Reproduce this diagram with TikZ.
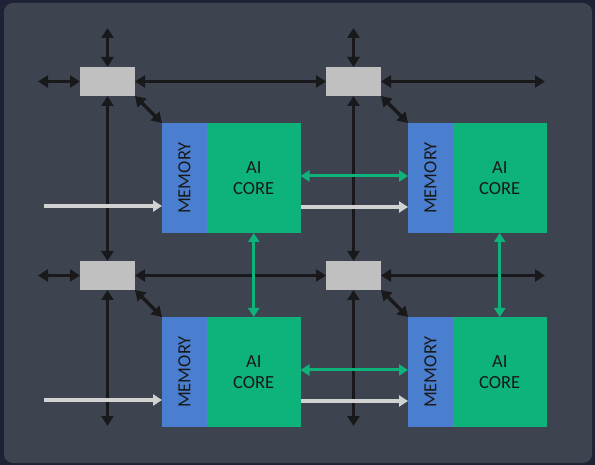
\documentclass[tikz,border=0pt]{standalone}
\usepackage{fontspec}
\setmainfont{Carlito}
\usetikzlibrary{arrows.meta, positioning, calc}
\definecolor{cframe}{HTML}{1E2234}
\definecolor{cpanel}{HTML}{3E4350}
\definecolor{cmem}{HTML}{4A7ECF}
\definecolor{ccore}{HTML}{0DB37A}
\definecolor{crouter}{HTML}{C0C0C0}
\definecolor{cwire}{HTML}{19191B}
\definecolor{cfeed}{HTML}{D2D2D2}
\tikzset{
  every picture/.style={font=\fontsize{18.5}{21.5}\selectfont, x=1pt, y=-1pt},
  router/.style={fill=crouter, minimum width=55pt, minimum height=29pt, inner sep=0pt, outer sep=0pt},
  mem/.style={fill=cmem, minimum width=45pt, minimum height=110pt, inner sep=0pt, outer sep=0pt, text=black!90},
  core/.style={fill=ccore, minimum width=93.5pt, minimum height=110pt, inner sep=0pt, outer sep=0pt, align=center, text=black!90},
  wire/.style={{Triangle[length=10pt,width=12pt]}-{Triangle[length=10pt,width=12pt]}, draw=cwire, line width=3.3pt},
  link/.style={{Triangle[length=9pt,width=11pt]}-{Triangle[length=9pt,width=11pt]}, draw=ccore, line width=3pt},
  feed/.style={-{Triangle[length=9pt,width=11pt]}, draw=cfeed, line width=4pt},
}

\begin{document}
\begin{tikzpicture}
  \useasboundingbox (0,0) rectangle (595,465);
  \fill[cframe] (0,0) rectangle (595,465);
  \fill[cpanel, rounded corners=9pt] (4,3) rectangle (592,463);
  % tiles
  \foreach \i/\x in {0/0, 1/246} {
    \foreach \j/\y in {0/0, 1/194} {
      \node[router] (r\i\j) at (107.5+\x, 81.5+\y) {};
      \node[mem] (m\i\j) at (184.5+\x, 178+\y) {\rotatebox{90}{MEMORY}};
      \node[core, right=0pt of m\i\j] (c\i\j) {AI\\CORE};
      \draw[wire] (r\i\j.south east) -- (m\i\j.north west);
    }
    \coordinate (T\i) at (107.5+\x, 28);
    \coordinate (B\i) at (107.5+\x, 426);
    \draw[wire] (T\i) -- (r\i0.north);
    \draw[wire] (r\i0.south) -- (r\i1.north);
    \draw[wire] (r\i1.south) -- (B\i);
  }
  \foreach \j/\y in {0/0, 1/194} {
    \coordinate (L\j) at (38, 81.5+\y);
    \coordinate (R\j) at (545, 81.5+\y);
    \coordinate (G\j) at (44, 206+\y);
    \draw[wire] (L\j) -- (r0\j.west);
    \draw[wire] (r0\j.east) -- (r1\j.west);
    \draw[wire] (r1\j.east) -- (R\j);
    \draw[feed] (G\j) -- (G\j -| m0\j.west);
    \draw[feed] ([yshift=-29pt]c0\j.east) -- ([yshift=-29pt]m1\j.west);
    \draw[link] ([yshift=2pt]c0\j.east) -- ([yshift=2pt]m1\j.west);
  }
  \draw[link] (c00.south) -- (c01.north);
  \draw[link] (c10.south) -- (c11.north);
\end{tikzpicture}
\end{document}
